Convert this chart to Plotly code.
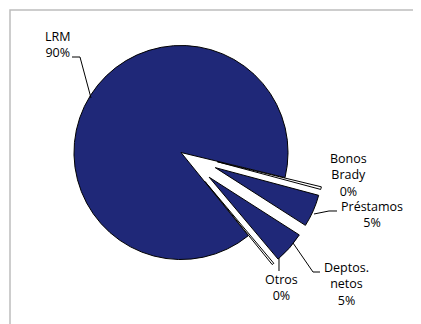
import plotly.graph_objects as go

labels = ['LRM', 'Bonos Brady', 'Préstamos', 'Deptos. netos', 'Otros']
values = [89.6, 0.4, 4.9, 4.8, 0.3]
label_text = ['LRM', 'Bonos<br>Brady', 'Préstamos', 'Deptos.<br>netos', 'Otros']
pulls = [0, 0.35, 0.35, 0.35, 0.35]
colors = ['#1f2878', 'white', '#1f2878', '#1f2878', 'white']

W, H = 421, 324
OFF = 8  # page body margin


def px(x):
    return (x - OFF) / W


def py(y):
    return 1 - (y - OFF) / H


total = sum(values)
pcts = ['%d%%' % round(v / total * 100) for v in values]

fig = go.Figure()

fig.add_trace(go.Pie(
    labels=labels,
    values=values,
    sort=False,
    direction='clockwise',
    rotation=141,
    pull=pulls,
    textinfo='none',
    hoverinfo='label+percent',
    marker=dict(colors=colors, line=dict(color='black', width=1)),
    domain=dict(x=[px(36.5), px(325.5)], y=[py(297), 1]),
    showlegend=False
))

# label positions (pixel centres) and leader lines
label_pos = [(57, 45), (348, 175), (372, 215), (346, 284), (281, 287)]
leaders = [
    [(72, 57), (80, 57), (91, 98)],
    None,
    [(314, 214), (329, 211), (337, 211)],
    [(293, 243), (313, 272), (320, 272)],
    [(279, 258), (279, 271)],
]

for i, (x, y) in enumerate(label_pos):
    fig.add_annotation(
        x=px(x), y=py(y), xref='paper', yref='paper',
        text=label_text[i] + '<br>' + pcts[i],
        showarrow=False, align='center',
        xanchor='center', yanchor='middle',
        font=dict(family='Open Sans', size=12.5, color='black')
    )

shapes = []
for pts in leaders:
    if pts is None:
        continue
    path = 'M ' + ' L '.join('%f,%f' % (px(a), py(b)) for a, b in pts)
    shapes.append(dict(type='path', xref='paper', yref='paper', path=path,
                       line=dict(color='black', width=1)))

# outer frame
shapes.append(dict(type='rect', xref='paper', yref='paper',
                   x0=px(10), x1=px(440), y0=py(350), y1=py(10),
                   line=dict(color='#bdbdbd', width=1.5)))

fig.update_layout(
    width=W,
    height=H,
    margin=dict(l=0, r=0, t=0, b=0),
    paper_bgcolor='white',
    plot_bgcolor='white',
    shapes=shapes
)

fig.write_html('out.html')
